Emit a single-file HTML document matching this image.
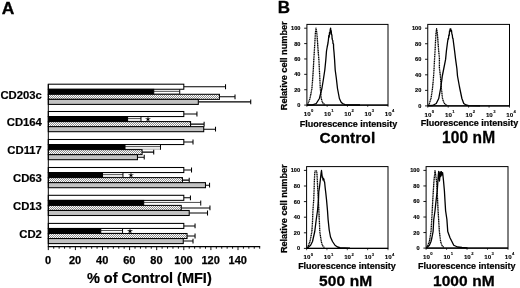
<!DOCTYPE html>
<html><head><meta charset="utf-8"><title>Figure</title>
<style>
html,body{margin:0;padding:0;background:#fff;}
body{width:520px;height:288px;overflow:hidden;font-family:"Liberation Sans",sans-serif;}
svg{display:block;filter:grayscale(1);}
text{font-family:"Liberation Sans",sans-serif;font-weight:bold;fill:#000;}
</style></head><body>
<svg width="520" height="288" viewBox="0 0 520 288">
<defs>
<pattern id="hatch" width="2" height="2" patternUnits="userSpaceOnUse">
<rect width="2" height="2" fill="#fff"/>
<path d="M-1,1 L1,-1 M0,2 L2,0 M1,3 L3,1" stroke="#000" stroke-width="0.44"/>
</pattern>
</defs>
<rect width="520" height="288" fill="#fff"/>

<text x="1.8" y="13.8" font-size="17.4" stroke="#000" stroke-width="0.35">A</text>
<text x="277.8" y="12.9" font-size="17" stroke="#000" stroke-width="0.3">B</text>
<text x="41.9" y="98.7" font-size="11.3" text-anchor="end" stroke="#000" stroke-width="0.2">CD203c</text>
<path d="M183.80,86.73 H225.53 M225.53,84.33 V89.13" stroke="#000" stroke-width="1.05" fill="none"/>
<rect x="48.30" y="84.20" width="135.50" height="5.05" fill="#fff" stroke="#000" stroke-width="1.05"/>
<path d="M153.72,91.33 H179.74" stroke="#000" stroke-width="0.7" fill="none"/>
<path d="M179.74,89.45 V94.50" stroke="#000" stroke-width="1.0" fill="none"/>
<path d="M153.72,93.85 H179.74" stroke="#555" stroke-width="0.5" fill="none"/>
<rect x="48.30" y="89.35" width="105.42" height="5.15" fill="#000" stroke="#000" stroke-width="1.05"/>
<path d="M219.44,96.83 H235.02 M235.02,94.42 V99.23" stroke="#000" stroke-width="1.05" fill="none"/>
<rect x="48.30" y="94.30" width="171.14" height="5.05" fill="url(#hatch)" stroke="#000" stroke-width="1.05"/>
<path d="M198.30,101.88 H250.74 M250.74,99.47 V104.28" stroke="#000" stroke-width="1.05" fill="none"/>
<rect x="48.30" y="99.35" width="150.00" height="5.05" fill="#c2c2c2" stroke="#000" stroke-width="1.05"/>
<text x="41.9" y="126.0" font-size="11.3" text-anchor="end" stroke="#000" stroke-width="0.2">CD164</text>
<path d="M183.80,114.03 H196.94 M196.94,111.62 V116.43" stroke="#000" stroke-width="1.05" fill="none"/>
<rect x="48.30" y="111.50" width="135.50" height="5.05" fill="#fff" stroke="#000" stroke-width="1.05"/>
<path d="M127.57,118.62 H140.98" stroke="#000" stroke-width="0.7" fill="none"/>
<path d="M140.98,116.75 V121.80" stroke="#000" stroke-width="1.0" fill="none"/>
<path d="M127.57,121.15 H140.98" stroke="#555" stroke-width="0.5" fill="none"/>
<rect x="48.30" y="116.65" width="79.27" height="5.15" fill="#000" stroke="#000" stroke-width="1.05"/>
<path d="M190.57,124.12 H204.12 M204.12,121.72 V126.53" stroke="#000" stroke-width="1.05" fill="none"/>
<rect x="48.30" y="121.60" width="142.27" height="5.05" fill="url(#hatch)" stroke="#000" stroke-width="1.05"/>
<path d="M203.72,129.18 H215.51 M215.51,126.78 V131.58" stroke="#000" stroke-width="1.05" fill="none"/>
<rect x="48.30" y="126.65" width="155.42" height="5.05" fill="#c2c2c2" stroke="#000" stroke-width="1.05"/>
<polygon points="148.00,116.08 148.59,118.47 151.04,118.29 148.95,119.58 149.88,121.86 148.00,120.28 146.12,121.86 147.05,119.58 144.96,118.29 147.41,118.47" fill="#000"/>
<text x="41.9" y="154.0" font-size="11.3" text-anchor="end" stroke="#000" stroke-width="0.2">CD117</text>
<path d="M183.80,142.03 H193.01 M193.01,139.62 V144.43" stroke="#000" stroke-width="1.05" fill="none"/>
<rect x="48.30" y="139.50" width="135.50" height="5.05" fill="#fff" stroke="#000" stroke-width="1.05"/>
<path d="M124.99,146.63 H160.49" stroke="#000" stroke-width="0.7" fill="none"/>
<path d="M160.49,144.75 V149.80" stroke="#000" stroke-width="1.0" fill="none"/>
<path d="M124.99,149.15 H160.49" stroke="#555" stroke-width="0.5" fill="none"/>
<rect x="48.30" y="144.65" width="76.69" height="5.15" fill="#000" stroke="#000" stroke-width="1.05"/>
<path d="M142.07,152.12 H153.72 M153.72,149.72 V154.53" stroke="#000" stroke-width="1.05" fill="none"/>
<rect x="48.30" y="149.60" width="93.77" height="5.05" fill="url(#hatch)" stroke="#000" stroke-width="1.05"/>
<path d="M137.46,157.18 H144.23 M144.23,154.78 V159.58" stroke="#000" stroke-width="1.05" fill="none"/>
<rect x="48.30" y="154.65" width="89.16" height="5.05" fill="#c2c2c2" stroke="#000" stroke-width="1.05"/>
<text x="41.9" y="182.0" font-size="11.3" text-anchor="end" stroke="#000" stroke-width="0.2">CD63</text>
<path d="M183.80,170.03 H191.52 M191.52,167.62 V172.43" stroke="#000" stroke-width="1.05" fill="none"/>
<rect x="48.30" y="167.50" width="135.50" height="5.05" fill="#fff" stroke="#000" stroke-width="1.05"/>
<path d="M102.50,174.63 H122.96" stroke="#000" stroke-width="0.7" fill="none"/>
<path d="M122.96,172.75 V177.80" stroke="#000" stroke-width="1.0" fill="none"/>
<path d="M102.50,177.15 H122.96" stroke="#555" stroke-width="0.5" fill="none"/>
<rect x="48.30" y="172.65" width="54.20" height="5.15" fill="#000" stroke="#000" stroke-width="1.05"/>
<path d="M182.44,180.12 H189.22 M189.22,177.72 V182.53" stroke="#000" stroke-width="1.05" fill="none"/>
<rect x="48.30" y="177.60" width="134.14" height="5.05" fill="url(#hatch)" stroke="#000" stroke-width="1.05"/>
<path d="M205.48,185.18 H209.55 M209.55,182.78 V187.58" stroke="#000" stroke-width="1.05" fill="none"/>
<rect x="48.30" y="182.65" width="157.18" height="5.05" fill="#c2c2c2" stroke="#000" stroke-width="1.05"/>
<polygon points="131.00,172.07 131.59,174.47 134.04,174.29 131.95,175.58 132.88,177.86 131.00,176.27 129.12,177.86 130.05,175.58 127.96,174.29 130.41,174.47" fill="#000"/>
<text x="41.9" y="209.8" font-size="11.3" text-anchor="end" stroke="#000" stroke-width="0.2">CD13</text>
<path d="M183.80,197.83 H190.44 M190.44,195.43 V200.23" stroke="#000" stroke-width="1.05" fill="none"/>
<rect x="48.30" y="195.30" width="135.50" height="5.05" fill="#fff" stroke="#000" stroke-width="1.05"/>
<path d="M143.69,202.43 H200.74" stroke="#000" stroke-width="0.7" fill="none"/>
<path d="M200.74,200.55 V205.60" stroke="#000" stroke-width="1.0" fill="none"/>
<rect x="48.30" y="200.45" width="95.39" height="5.15" fill="#000" stroke="#000" stroke-width="1.05"/>
<path d="M181.23,207.93 H209.95 M209.95,205.53 V210.33" stroke="#000" stroke-width="1.05" fill="none"/>
<rect x="48.30" y="205.40" width="132.93" height="5.05" fill="url(#hatch)" stroke="#000" stroke-width="1.05"/>
<path d="M189.22,212.98 H207.51 M207.51,210.58 V215.38" stroke="#000" stroke-width="1.05" fill="none"/>
<rect x="48.30" y="210.45" width="140.92" height="5.05" fill="#c2c2c2" stroke="#000" stroke-width="1.05"/>
<text x="41.9" y="237.9" font-size="11.3" text-anchor="end" stroke="#000" stroke-width="0.2">CD2</text>
<path d="M183.80,225.93 H195.05 M195.05,223.53 V228.33" stroke="#000" stroke-width="1.05" fill="none"/>
<rect x="48.30" y="223.40" width="135.50" height="5.05" fill="#fff" stroke="#000" stroke-width="1.05"/>
<path d="M100.74,230.53 H122.55" stroke="#000" stroke-width="0.7" fill="none"/>
<path d="M122.55,228.65 V233.70" stroke="#000" stroke-width="1.0" fill="none"/>
<path d="M100.74,233.05 H122.55" stroke="#555" stroke-width="0.5" fill="none"/>
<rect x="48.30" y="228.55" width="52.44" height="5.15" fill="#000" stroke="#000" stroke-width="1.05"/>
<path d="M187.05,236.03 H195.05 M195.05,233.62 V238.43" stroke="#000" stroke-width="1.05" fill="none"/>
<rect x="48.30" y="233.50" width="138.75" height="5.05" fill="url(#hatch)" stroke="#000" stroke-width="1.05"/>
<path d="M183.26,241.08 H193.01 M193.01,238.68 V243.48" stroke="#000" stroke-width="1.05" fill="none"/>
<rect x="48.30" y="238.55" width="134.96" height="5.05" fill="#c2c2c2" stroke="#000" stroke-width="1.05"/>
<polygon points="130.00,227.97 130.59,230.37 133.04,230.19 130.95,231.48 131.88,233.76 130.00,232.17 128.12,233.76 129.05,231.48 126.96,230.19 129.41,230.37" fill="#000"/>
<path d="M48.30,84.20 V246.6" stroke="#000" stroke-width="1" fill="none"/>
<path d="M47.80,246.6 H260.18" stroke="#000" stroke-width="1.1" fill="none"/>
<path d="M48.30,246.6 v3.5 M53.72,246.6 v2.1 M59.14,246.6 v2.1 M64.56,246.6 v2.1 M69.98,246.6 v2.1 M75.40,246.6 v3.5 M80.82,246.6 v2.1 M86.24,246.6 v2.1 M91.66,246.6 v2.1 M97.08,246.6 v2.1 M102.50,246.6 v3.5 M107.92,246.6 v2.1 M113.34,246.6 v2.1 M118.76,246.6 v2.1 M124.18,246.6 v2.1 M129.60,246.6 v3.5 M135.02,246.6 v2.1 M140.44,246.6 v2.1 M145.86,246.6 v2.1 M151.28,246.6 v2.1 M156.70,246.6 v3.5 M162.12,246.6 v2.1 M167.54,246.6 v2.1 M172.96,246.6 v2.1 M178.38,246.6 v2.1 M183.80,246.6 v3.5 M189.22,246.6 v2.1 M194.64,246.6 v2.1 M200.06,246.6 v2.1 M205.48,246.6 v2.1 M210.90,246.6 v3.5 M216.32,246.6 v2.1 M221.74,246.6 v2.1 M227.16,246.6 v2.1 M232.58,246.6 v2.1 M238.00,246.6 v3.5 M243.42,246.6 v2.1 M248.84,246.6 v2.1 M254.26,246.6 v2.1 M259.68,246.6 v2.1 " stroke="#000" stroke-width="0.95" fill="none"/>
<text x="48.00" y="263.5" font-size="11" text-anchor="middle" stroke="#000" stroke-width="0.25">0</text>
<text x="75.10" y="263.5" font-size="11" text-anchor="middle" stroke="#000" stroke-width="0.25">20</text>
<text x="102.20" y="263.5" font-size="11" text-anchor="middle" stroke="#000" stroke-width="0.25">40</text>
<text x="129.30" y="263.5" font-size="11" text-anchor="middle" stroke="#000" stroke-width="0.25">60</text>
<text x="156.40" y="263.5" font-size="11" text-anchor="middle" stroke="#000" stroke-width="0.25">80</text>
<text x="183.50" y="263.5" font-size="11" text-anchor="middle" stroke="#000" stroke-width="0.25">100</text>
<text x="210.60" y="263.5" font-size="11" text-anchor="middle" stroke="#000" stroke-width="0.25">120</text>
<text x="237.70" y="263.5" font-size="11" text-anchor="middle" stroke="#000" stroke-width="0.25">140</text>
<text x="149.3" y="282.7" font-size="14.5" text-anchor="middle" stroke="#000" stroke-width="0.2">% of Control (MFI)</text>
<rect x="306.90" y="24.40" width="81.10" height="80.70" fill="none" stroke="#000" stroke-width="1"/>
<path d="M306.90,105.10 H388.00" stroke="#000" stroke-width="1.3"/>
<path d="M304.20,105.10 H306.90" stroke="#000" stroke-width="0.9"/>
<text x="300.40" y="107.10" font-size="5.6" text-anchor="end" stroke="#000" stroke-width="0.15">0</text>
<path d="M304.20,89.72 H306.90" stroke="#000" stroke-width="0.9"/>
<text x="300.40" y="91.72" font-size="5.6" text-anchor="end" stroke="#000" stroke-width="0.15">20</text>
<path d="M304.20,74.34 H306.90" stroke="#000" stroke-width="0.9"/>
<text x="300.40" y="76.34" font-size="5.6" text-anchor="end" stroke="#000" stroke-width="0.15">40</text>
<path d="M304.20,58.96 H306.90" stroke="#000" stroke-width="0.9"/>
<text x="300.40" y="60.96" font-size="5.6" text-anchor="end" stroke="#000" stroke-width="0.15">60</text>
<path d="M304.20,43.58 H306.90" stroke="#000" stroke-width="0.9"/>
<text x="300.40" y="45.58" font-size="5.6" text-anchor="end" stroke="#000" stroke-width="0.15">80</text>
<path d="M304.20,28.20 H306.90" stroke="#000" stroke-width="0.9"/>
<text x="300.40" y="30.20" font-size="5.6" text-anchor="end" stroke="#000" stroke-width="0.15">100</text>
<path d="M306.90,105.10 v1.8" stroke="#000" stroke-width="0.7"/>
<text x="307.20" y="115.70" font-size="6.2" text-anchor="middle" stroke="#000" stroke-width="0.12">10</text>
<text x="311.00" y="112.30" font-size="4.2" stroke="#000" stroke-width="0.1">0</text>
<path d="M327.17,105.10 v1.8" stroke="#000" stroke-width="0.7"/>
<text x="327.47" y="115.70" font-size="6.2" text-anchor="middle" stroke="#000" stroke-width="0.12">10</text>
<text x="331.27" y="112.30" font-size="4.2" stroke="#000" stroke-width="0.1">1</text>
<path d="M347.45,105.10 v1.8" stroke="#000" stroke-width="0.7"/>
<text x="347.75" y="115.70" font-size="6.2" text-anchor="middle" stroke="#000" stroke-width="0.12">10</text>
<text x="351.55" y="112.30" font-size="4.2" stroke="#000" stroke-width="0.1">2</text>
<path d="M367.73,105.10 v1.8" stroke="#000" stroke-width="0.7"/>
<text x="368.03" y="115.70" font-size="6.2" text-anchor="middle" stroke="#000" stroke-width="0.12">10</text>
<text x="371.83" y="112.30" font-size="4.2" stroke="#000" stroke-width="0.1">3</text>
<path d="M388.00,105.10 v1.8" stroke="#000" stroke-width="0.7"/>
<text x="388.30" y="115.70" font-size="6.2" text-anchor="middle" stroke="#000" stroke-width="0.12">10</text>
<text x="392.10" y="112.30" font-size="4.2" stroke="#000" stroke-width="0.1">4</text>
<text x="348.45" y="126.90" font-size="9" text-anchor="middle" stroke="#000" stroke-width="0.22">Fluorescence intensity</text>
<text transform="translate(347.45,143.00) scale(1,1)" font-size="15.5" text-anchor="middle" stroke="#000" stroke-width="0.3" letter-spacing="0.1">Control</text>
<path d="M307.50,105.00 L310.00,98.50 L311.90,88.50 L312.60,80.00 L313.30,70.00 L313.80,60.00 L314.40,50.00 L315.00,40.00 L315.40,33.00 L316.00,28.10 L316.80,33.00 L317.40,40.00 L318.10,50.00 L318.90,60.00 L319.40,70.00 L319.90,80.00 L320.30,88.50 L321.25,98.50 L322.50,102.50 L325.00,105.00" fill="none" stroke="#000" stroke-width="1.3" stroke-dasharray="1.3,0.45" stroke-linejoin="round"/>
<path d="M307.00,105.00 L312.50,104.90 L316.25,103.50 L319.40,98.50 L321.90,88.50 L323.30,80.00 L324.80,70.00 L325.80,60.00 L326.50,51.00 L327.20,47.00 L328.00,43.00 L328.50,39.00 L328.80,35.50 L329.20,37.00 L329.50,32.50 L329.90,34.00 L330.20,30.00 L330.60,28.10 L330.90,31.50 L331.20,30.50 L331.50,34.50 L331.90,35.00 L332.10,38.50 L332.50,40.00 L332.80,40.50 L333.00,43.50 L333.50,44.00 L333.60,48.00 L334.00,52.00 L334.60,60.00 L335.20,70.00 L336.30,78.00 L337.50,88.50 L339.40,98.50 L341.00,102.00 L342.50,103.50 L345.00,104.60 L347.50,105.00 L360.00,105.00" fill="none" stroke="#000" stroke-width="1.3" stroke-linejoin="round"/>
<rect x="427.75" y="24.40" width="81.75" height="81.50" fill="none" stroke="#000" stroke-width="1"/>
<path d="M427.75,105.90 H509.50" stroke="#000" stroke-width="1.3"/>
<path d="M425.05,105.90 H427.75" stroke="#000" stroke-width="0.9"/>
<text x="421.25" y="107.90" font-size="5.6" text-anchor="end" stroke="#000" stroke-width="0.15">0</text>
<path d="M425.05,90.36 H427.75" stroke="#000" stroke-width="0.9"/>
<text x="421.25" y="92.36" font-size="5.6" text-anchor="end" stroke="#000" stroke-width="0.15">20</text>
<path d="M425.05,74.82 H427.75" stroke="#000" stroke-width="0.9"/>
<text x="421.25" y="76.82" font-size="5.6" text-anchor="end" stroke="#000" stroke-width="0.15">40</text>
<path d="M425.05,59.28 H427.75" stroke="#000" stroke-width="0.9"/>
<text x="421.25" y="61.28" font-size="5.6" text-anchor="end" stroke="#000" stroke-width="0.15">60</text>
<path d="M425.05,43.74 H427.75" stroke="#000" stroke-width="0.9"/>
<text x="421.25" y="45.74" font-size="5.6" text-anchor="end" stroke="#000" stroke-width="0.15">80</text>
<path d="M425.05,28.20 H427.75" stroke="#000" stroke-width="0.9"/>
<text x="421.25" y="30.20" font-size="5.6" text-anchor="end" stroke="#000" stroke-width="0.15">100</text>
<path d="M427.75,105.90 v1.8" stroke="#000" stroke-width="0.7"/>
<text x="428.05" y="116.50" font-size="6.2" text-anchor="middle" stroke="#000" stroke-width="0.12">10</text>
<text x="431.85" y="113.10" font-size="4.2" stroke="#000" stroke-width="0.1">0</text>
<path d="M448.19,105.90 v1.8" stroke="#000" stroke-width="0.7"/>
<text x="448.49" y="116.50" font-size="6.2" text-anchor="middle" stroke="#000" stroke-width="0.12">10</text>
<text x="452.29" y="113.10" font-size="4.2" stroke="#000" stroke-width="0.1">1</text>
<path d="M468.62,105.90 v1.8" stroke="#000" stroke-width="0.7"/>
<text x="468.93" y="116.50" font-size="6.2" text-anchor="middle" stroke="#000" stroke-width="0.12">10</text>
<text x="472.73" y="113.10" font-size="4.2" stroke="#000" stroke-width="0.1">2</text>
<path d="M489.06,105.90 v1.8" stroke="#000" stroke-width="0.7"/>
<text x="489.36" y="116.50" font-size="6.2" text-anchor="middle" stroke="#000" stroke-width="0.12">10</text>
<text x="493.16" y="113.10" font-size="4.2" stroke="#000" stroke-width="0.1">3</text>
<path d="M509.50,105.90 v1.8" stroke="#000" stroke-width="0.7"/>
<text x="509.80" y="116.50" font-size="6.2" text-anchor="middle" stroke="#000" stroke-width="0.12">10</text>
<text x="513.60" y="113.10" font-size="4.2" stroke="#000" stroke-width="0.1">4</text>
<text x="469.62" y="125.90" font-size="9" text-anchor="middle" stroke="#000" stroke-width="0.22">Fluorescence intensity</text>
<text transform="translate(468.62,143.00) scale(0.93,1)" font-size="16.7" text-anchor="middle" stroke="#000" stroke-width="0.3" letter-spacing="0.1">100 nM</text>
<path d="M428.75,105.50 L431.00,98.50 L432.50,88.50 L433.30,80.00 L434.00,70.00 L434.50,60.00 L435.10,50.00 L435.60,40.00 L436.00,33.00 L436.60,28.75 L437.30,33.00 L437.90,40.00 L438.60,50.00 L439.40,58.00 L439.40,68.00 L440.40,76.00 L441.40,88.50 L442.50,98.50 L444.00,103.00 L446.90,105.50" fill="none" stroke="#000" stroke-width="1.3" stroke-dasharray="1.3,0.45" stroke-linejoin="round"/>
<path d="M428.00,105.70 L432.50,105.50 L436.25,103.50 L438.75,98.50 L440.60,88.50 L441.80,80.00 L442.30,76.00 L443.75,68.75 L445.60,59.40 L446.40,51.00 L447.50,42.50 L448.10,38.50 L448.50,39.00 L448.80,35.00 L449.20,35.50 L449.50,31.00 L449.90,31.50 L450.10,28.90 L450.50,30.00 L450.80,28.90 L451.10,31.00 L451.50,30.50 L451.90,34.00 L452.30,35.00 L452.60,38.00 L453.00,38.50 L453.50,42.50 L454.60,51.00 L455.60,59.40 L456.90,68.75 L457.50,76.00 L459.50,87.00 L461.90,98.50 L463.75,103.50 L466.00,105.00 L468.75,105.60 L480.00,105.80" fill="none" stroke="#000" stroke-width="1.3" stroke-linejoin="round"/>
<rect x="306.60" y="166.60" width="81.40" height="81.80" fill="none" stroke="#000" stroke-width="1"/>
<path d="M306.60,248.40 H388.00" stroke="#000" stroke-width="1.3"/>
<path d="M303.90,248.40 H306.60" stroke="#000" stroke-width="0.9"/>
<text x="300.10" y="250.40" font-size="5.6" text-anchor="end" stroke="#000" stroke-width="0.15">0</text>
<path d="M303.90,232.80 H306.60" stroke="#000" stroke-width="0.9"/>
<text x="300.10" y="234.80" font-size="5.6" text-anchor="end" stroke="#000" stroke-width="0.15">20</text>
<path d="M303.90,217.20 H306.60" stroke="#000" stroke-width="0.9"/>
<text x="300.10" y="219.20" font-size="5.6" text-anchor="end" stroke="#000" stroke-width="0.15">40</text>
<path d="M303.90,201.60 H306.60" stroke="#000" stroke-width="0.9"/>
<text x="300.10" y="203.60" font-size="5.6" text-anchor="end" stroke="#000" stroke-width="0.15">60</text>
<path d="M303.90,186.00 H306.60" stroke="#000" stroke-width="0.9"/>
<text x="300.10" y="188.00" font-size="5.6" text-anchor="end" stroke="#000" stroke-width="0.15">80</text>
<path d="M303.90,170.40 H306.60" stroke="#000" stroke-width="0.9"/>
<text x="300.10" y="172.40" font-size="5.6" text-anchor="end" stroke="#000" stroke-width="0.15">100</text>
<path d="M306.60,248.40 v1.8" stroke="#000" stroke-width="0.7"/>
<text x="306.90" y="259.00" font-size="6.2" text-anchor="middle" stroke="#000" stroke-width="0.12">10</text>
<text x="310.70" y="255.60" font-size="4.2" stroke="#000" stroke-width="0.1">0</text>
<path d="M326.95,248.40 v1.8" stroke="#000" stroke-width="0.7"/>
<text x="327.25" y="259.00" font-size="6.2" text-anchor="middle" stroke="#000" stroke-width="0.12">10</text>
<text x="331.05" y="255.60" font-size="4.2" stroke="#000" stroke-width="0.1">1</text>
<path d="M347.30,248.40 v1.8" stroke="#000" stroke-width="0.7"/>
<text x="347.60" y="259.00" font-size="6.2" text-anchor="middle" stroke="#000" stroke-width="0.12">10</text>
<text x="351.40" y="255.60" font-size="4.2" stroke="#000" stroke-width="0.1">2</text>
<path d="M367.65,248.40 v1.8" stroke="#000" stroke-width="0.7"/>
<text x="367.95" y="259.00" font-size="6.2" text-anchor="middle" stroke="#000" stroke-width="0.12">10</text>
<text x="371.75" y="255.60" font-size="4.2" stroke="#000" stroke-width="0.1">3</text>
<path d="M388.00,248.40 v1.8" stroke="#000" stroke-width="0.7"/>
<text x="388.30" y="259.00" font-size="6.2" text-anchor="middle" stroke="#000" stroke-width="0.12">10</text>
<text x="392.10" y="255.60" font-size="4.2" stroke="#000" stroke-width="0.1">4</text>
<text x="346.90" y="269.10" font-size="9" text-anchor="middle" stroke="#000" stroke-width="0.22">Fluorescence intensity</text>
<text transform="translate(345.70,285.60) scale(1,1)" font-size="15.5" text-anchor="middle" stroke="#000" stroke-width="0.3" letter-spacing="0.1">500 nM</text>
<path d="M307.50,247.80 L310.00,241.50 L311.90,231.50 L312.50,222.00 L312.90,210.75 L313.70,200.00 L314.10,190.00 L314.40,180.00 L314.70,174.00 L315.10,170.80 L316.50,170.80 L317.00,174.00 L317.30,180.00 L317.80,190.00 L318.40,200.00 L318.90,210.75 L319.40,222.00 L319.80,231.50 L321.25,241.50 L322.50,245.50 L324.40,247.60" fill="none" stroke="#000" stroke-width="1.3" stroke-dasharray="1.3,0.45" stroke-linejoin="round"/>
<path d="M307.00,248.20 L308.00,247.50 L310.60,245.25 L312.50,241.50 L314.75,231.50 L316.25,219.50 L317.50,210.75 L318.50,199.50 L318.75,192.00 L319.40,188.00 L320.25,180.75 L320.70,176.50 L321.10,173.00 L321.50,170.50 L321.90,174.00 L322.30,177.50 L322.70,177.00 L323.00,180.00 L323.50,178.60 L323.90,179.20 L324.20,181.50 L324.60,182.00 L325.20,188.00 L325.80,193.00 L326.50,199.50 L327.50,210.75 L328.10,219.50 L329.20,230.00 L330.50,237.00 L332.50,241.50 L335.00,245.25 L337.50,247.00 L340.00,247.70 L350.00,248.20" fill="none" stroke="#000" stroke-width="1.3" stroke-linejoin="round"/>
<rect x="426.10" y="166.60" width="81.90" height="81.50" fill="none" stroke="#000" stroke-width="1"/>
<path d="M426.10,248.10 H508.00" stroke="#000" stroke-width="1.3"/>
<path d="M423.40,248.10 H426.10" stroke="#000" stroke-width="0.9"/>
<text x="419.60" y="250.10" font-size="5.6" text-anchor="end" stroke="#000" stroke-width="0.15">0</text>
<path d="M423.40,232.56 H426.10" stroke="#000" stroke-width="0.9"/>
<text x="419.60" y="234.56" font-size="5.6" text-anchor="end" stroke="#000" stroke-width="0.15">20</text>
<path d="M423.40,217.02 H426.10" stroke="#000" stroke-width="0.9"/>
<text x="419.60" y="219.02" font-size="5.6" text-anchor="end" stroke="#000" stroke-width="0.15">40</text>
<path d="M423.40,201.48 H426.10" stroke="#000" stroke-width="0.9"/>
<text x="419.60" y="203.48" font-size="5.6" text-anchor="end" stroke="#000" stroke-width="0.15">60</text>
<path d="M423.40,185.94 H426.10" stroke="#000" stroke-width="0.9"/>
<text x="419.60" y="187.94" font-size="5.6" text-anchor="end" stroke="#000" stroke-width="0.15">80</text>
<path d="M423.40,170.40 H426.10" stroke="#000" stroke-width="0.9"/>
<text x="419.60" y="172.40" font-size="5.6" text-anchor="end" stroke="#000" stroke-width="0.15">100</text>
<path d="M426.10,248.10 v1.8" stroke="#000" stroke-width="0.7"/>
<text x="426.40" y="258.70" font-size="6.2" text-anchor="middle" stroke="#000" stroke-width="0.12">10</text>
<text x="430.20" y="255.30" font-size="4.2" stroke="#000" stroke-width="0.1">0</text>
<path d="M446.58,248.10 v1.8" stroke="#000" stroke-width="0.7"/>
<text x="446.88" y="258.70" font-size="6.2" text-anchor="middle" stroke="#000" stroke-width="0.12">10</text>
<text x="450.68" y="255.30" font-size="4.2" stroke="#000" stroke-width="0.1">1</text>
<path d="M467.05,248.10 v1.8" stroke="#000" stroke-width="0.7"/>
<text x="467.35" y="258.70" font-size="6.2" text-anchor="middle" stroke="#000" stroke-width="0.12">10</text>
<text x="471.15" y="255.30" font-size="4.2" stroke="#000" stroke-width="0.1">2</text>
<path d="M487.52,248.10 v1.8" stroke="#000" stroke-width="0.7"/>
<text x="487.82" y="258.70" font-size="6.2" text-anchor="middle" stroke="#000" stroke-width="0.12">10</text>
<text x="491.62" y="255.30" font-size="4.2" stroke="#000" stroke-width="0.1">3</text>
<path d="M508.00,248.10 v1.8" stroke="#000" stroke-width="0.7"/>
<text x="508.30" y="258.70" font-size="6.2" text-anchor="middle" stroke="#000" stroke-width="0.12">10</text>
<text x="512.10" y="255.30" font-size="4.2" stroke="#000" stroke-width="0.1">4</text>
<text x="466.75" y="268.90" font-size="9" text-anchor="middle" stroke="#000" stroke-width="0.22">Fluorescence intensity</text>
<text transform="translate(463.85,285.80) scale(1,1)" font-size="15.5" text-anchor="middle" stroke="#000" stroke-width="0.3" letter-spacing="0.1">1000 nM</text>
<path d="M426.90,247.50 L429.40,241.50 L431.00,231.50 L431.60,222.00 L432.25,210.75 L432.80,200.00 L433.40,190.00 L434.00,180.75 L435.00,170.75 L436.50,180.75 L437.10,190.00 L437.60,200.00 L438.10,210.75 L438.80,222.00 L439.40,231.50 L440.60,241.50 L442.00,245.50 L443.75,247.40" fill="none" stroke="#000" stroke-width="1.3" stroke-dasharray="1.3,0.45" stroke-linejoin="round"/>
<path d="M426.40,247.80 L427.50,247.00 L429.40,245.25 L431.00,241.50 L431.90,237.75 L433.10,231.50 L433.75,219.50 L435.00,210.75 L436.00,201.40 L437.25,190.75 L437.90,180.75 L438.30,175.00 L438.70,171.30 L439.10,175.00 L439.50,181.00 L439.90,176.00 L440.30,171.80 L440.70,176.50 L441.00,173.50 L441.40,171.60 L441.80,175.00 L442.20,173.00 L442.60,172.60 L443.00,176.00 L443.50,180.75 L444.40,190.75 L445.00,201.00 L445.60,210.75 L446.90,219.50 L447.75,231.50 L450.00,237.75 L451.90,241.50 L453.75,245.25 L457.50,247.00 L462.00,247.50 L467.50,247.80" fill="none" stroke="#000" stroke-width="1.3" stroke-linejoin="round"/>
<text transform="translate(286.9,65.8) rotate(-90)" font-size="9.15" text-anchor="middle" stroke="#000" stroke-width="0.25">Relative cell number</text>
<text transform="translate(286.9,208.7) rotate(-90)" font-size="9.15" text-anchor="middle" stroke="#000" stroke-width="0.25">Relative cell number</text>
</svg></body></html>
